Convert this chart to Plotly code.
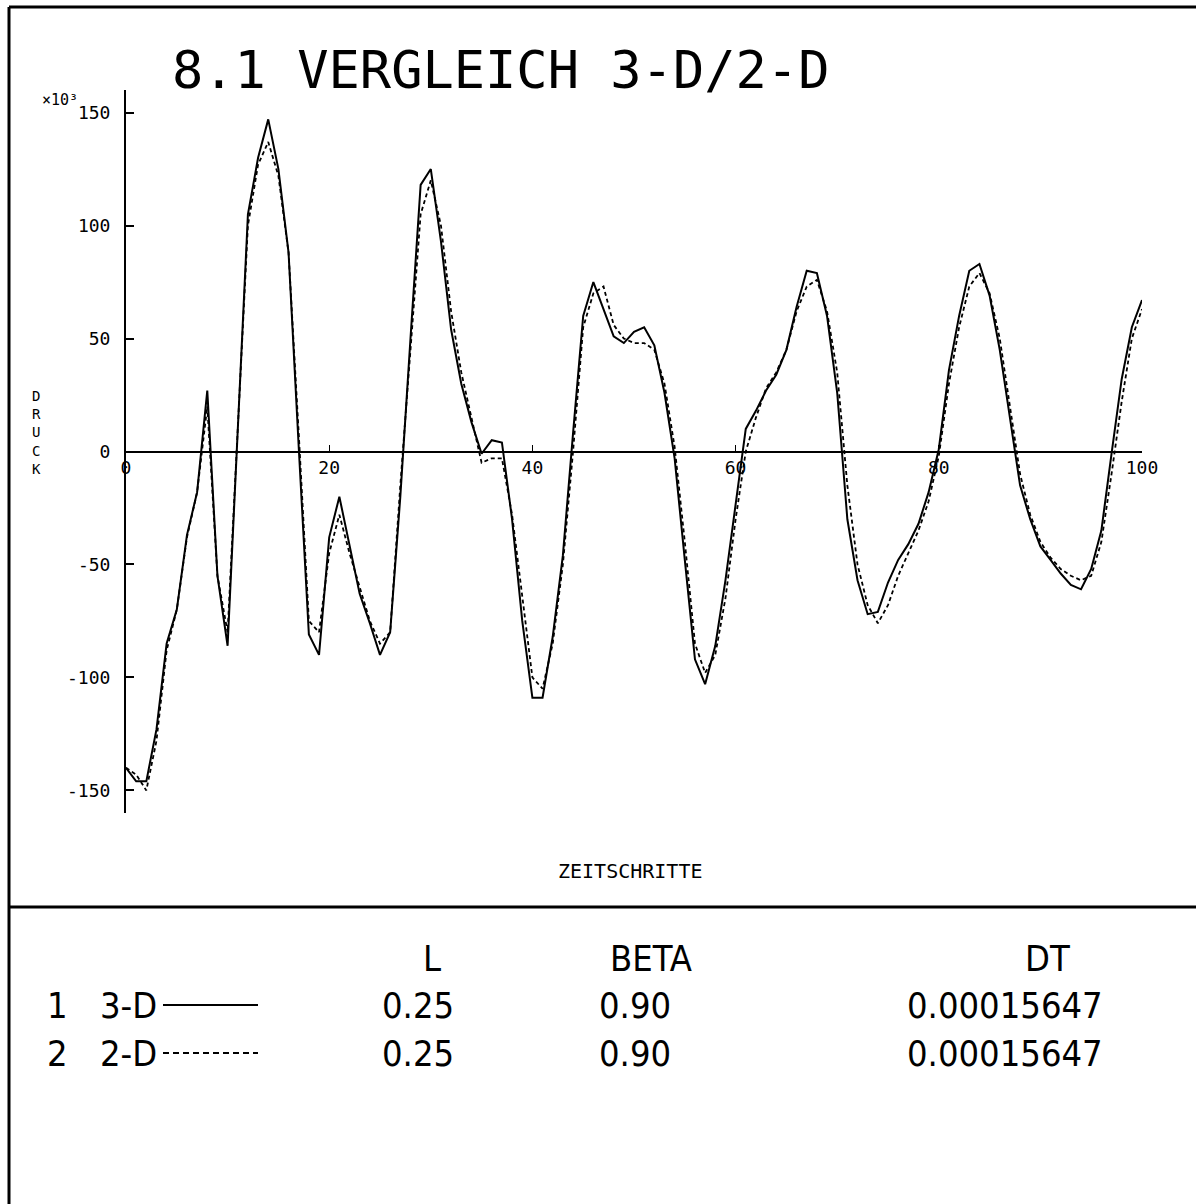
import plotly.graph_objects as go

# ---------------- data ----------------
steps = list(range(0, 101))

druck_3d = [-140, -146, -146, -123, -85, -70, -37, -18, 27, -55,
            -86, 12, 105, 130, 147, 125, 88, 2, -81, -90,
            -38, -20, -41, -63, -76, -90, -80, -20, 50, 118,
            125, 93, 54, 30, 13, -1, 5, 4, -30, -75,
            -109, -109, -82, -46, 8, 60, 75, 63, 51, 48,
            53, 55, 47, 26, -3, -48, -92, -103, -86, -57,
            -23, 10, 18, 27, 34, 45, 64, 80, 79, 60,
            26, -30, -57, -72, -71, -58, -48, -41, -32, -18,
            1, 36, 60, 80, 83, 69, 45, 14, -15, -30,
            -42, -48, -54, -59, -61, -52, -35, -1, 32, 55,
            67]

druck_2d = [-140, -143, -150, -128, -88, -70, -38, -18, 20, -55,
            -80, 10, 100, 127, 137, 122, 88, 8, -75, -80,
            -45, -28, -45, -60, -75, -85, -80, -15, 45, 105,
            120, 100, 62, 35, 15, -5, -3, -3, -28, -65,
            -100, -105, -85, -50, 0, 55, 70, 73, 56, 50,
            48, 48, 45, 30, 2, -40, -85, -98, -90, -65,
            -30, 0, 15, 28, 35, 45, 62, 73, 76, 62,
            35, -15, -50, -68, -76, -68, -55, -45, -35, -22,
            -2, 30, 55, 73, 79, 70, 50, 20, -10, -28,
            -40, -47, -52, -55, -57, -55, -40, -10, 22, 50,
            63]

x_tickvals = [0, 20, 40, 60, 80, 100]
x_ticktext = ["0", "20", "40", "60", "80", "100"]
y_tickvals = [-150, -100, -50, 0, 50, 100, 150]
y_ticktext = ["-150", "-100", "-50", "0", "50", "100", "150"]

title_text = "8.1 VERGLEICH 3-D/2-D"
x_title = "ZEITSCHRITTE"
y_title_letters = list("DRUCK")
exponent_text = "\u00d710\u00b3"

table_header = ["L", "BETA", "DT"]
series_nums = ["1", "2"]
series_names = ["3-D", "2-D"]
col_L = ["0.25", "0.25"]
col_BETA = ["0.90", "0.90"]
col_DT = ["0.00015647", "0.00015647"]

# ---------------- layout geometry ----------------
W, H = 1196, 1204
ML, MR, MT, MB = 126, 54, 90, 391
PW, PH = W - ML - MR, H - MT - MB


def px(x):
    return (x - ML) / PW


def py(y):
    return (H - MB - y) / PH


MONO = "DejaVu Sans Mono, Liberation Mono, monospace"
NARROW = "Liberation Sans Narrow, DejaVu Sans Condensed, Arial Narrow, sans-serif"
TFS = 36

fig = go.Figure()
fig.add_trace(go.Scatter(x=steps, y=druck_3d, mode="lines",
                         line=dict(color="black", width=2), name="3-D",
                         showlegend=False))
fig.add_trace(go.Scatter(x=steps, y=druck_2d, mode="lines",
                         line=dict(color="black", width=1.8, dash="4px,3px"),
                         name="2-D", showlegend=False))

shapes = []
# frame
shapes.append(dict(type="line", xref="paper", yref="paper",
                   x0=px(9), x1=px(W + 5), y0=py(7), y1=py(7),
                   line=dict(color="black", width=3)))
shapes.append(dict(type="line", xref="paper", yref="paper",
                   x0=px(9), x1=px(9), y0=py(7), y1=py(H + 5),
                   line=dict(color="black", width=3)))
shapes.append(dict(type="line", xref="paper", yref="paper",
                   x0=px(9), x1=px(W + 5), y0=py(907), y1=py(907),
                   line=dict(color="black", width=3)))
# legend samples
shapes.append(dict(type="line", xref="paper", yref="paper",
                   x0=px(163), x1=px(258), y0=py(1005), y1=py(1005),
                   line=dict(color="black", width=2)))
shapes.append(dict(type="line", xref="paper", yref="paper",
                   x0=px(163), x1=px(258), y0=py(1053), y1=py(1053),
                   line=dict(color="black", width=2, dash="6px,4px")))

ann = []
ann.append(dict(text=title_text, xref="paper", yref="paper",
                x=px(170), y=py(70), xanchor="left", yanchor="middle",
                showarrow=False, font=dict(family=MONO, size=52, color="black")))
ann.append(dict(text=exponent_text, xref="paper", yref="paper",
                x=px(40), y=py(100), xanchor="left", yanchor="middle",
                showarrow=False, font=dict(family=MONO, size=15, color="black")))
ann.append(dict(text="<br>".join(y_title_letters), xref="paper", yref="paper",
                x=px(36), y=py(432), xanchor="center", yanchor="middle",
                showarrow=False, align="center",
                font=dict(family=MONO, size=14, color="black")))
ann.append(dict(text=x_title, xref="paper", yref="paper",
                x=px(630), y=py(871), xanchor="center", yanchor="middle",
                showarrow=False, font=dict(family=MONO, size=20, color="black")))

# table
hdr_x = [432, 651, 1047]
for t, xc in zip(table_header, hdr_x):
    ann.append(dict(text=t, xref="paper", yref="paper", x=px(xc), y=py(958),
                    xanchor="center", yanchor="middle", showarrow=False,
                    font=dict(family=NARROW, size=TFS, color="black")))
row_y = [1005, 1053]
for i in range(2):
    yy = py(row_y[i])
    ann.append(dict(text=series_nums[i], xref="paper", yref="paper", x=px(57), y=yy,
                    xanchor="center", yanchor="middle", showarrow=False,
                    font=dict(family=NARROW, size=TFS, color="black")))
    ann.append(dict(text=series_names[i], xref="paper", yref="paper", x=px(98), y=yy,
                    xanchor="left", yanchor="middle", showarrow=False,
                    font=dict(family=NARROW, size=TFS, color="black")))
    ann.append(dict(text=col_L[i], xref="paper", yref="paper", x=px(380), y=yy,
                    xanchor="left", yanchor="middle", showarrow=False,
                    font=dict(family=NARROW, size=TFS, color="black")))
    ann.append(dict(text=col_BETA[i], xref="paper", yref="paper", x=px(597), y=yy,
                    xanchor="left", yanchor="middle", showarrow=False,
                    font=dict(family=NARROW, size=TFS, color="black")))
    ann.append(dict(text=col_DT[i], xref="paper", yref="paper", x=px(905), y=yy,
                    xanchor="left", yanchor="middle", showarrow=False,
                    font=dict(family=NARROW, size=TFS, color="black")))

fig.update_layout(
    width=W, height=H,
    margin=dict(l=ML, r=MR, t=MT, b=MB, pad=0),
    paper_bgcolor="white", plot_bgcolor="white",
    shapes=shapes, annotations=ann,
    xaxis=dict(range=[0, 100], anchor="free", position=0.5,
               showline=True, linecolor="black", linewidth=2,
               ticks="inside", ticklen=6, tickcolor="black", tickwidth=1,
               tickvals=x_tickvals, ticktext=x_ticktext,
               tickfont=dict(family=MONO, size=18, color="black"),
               showgrid=False, zeroline=False, fixedrange=True),
    yaxis=dict(range=[-160, 160],
               showline=True, linecolor="black", linewidth=2,
               ticks="inside", ticklen=8, tickcolor="black", tickwidth=1.5,
               tickvals=y_tickvals, ticktext=y_ticktext,
               tickfont=dict(family=MONO, size=18, color="black"),
               ticklabelstandoff=10,
               showgrid=False, zeroline=False, fixedrange=True),
)

fig.write_html("out.html")
